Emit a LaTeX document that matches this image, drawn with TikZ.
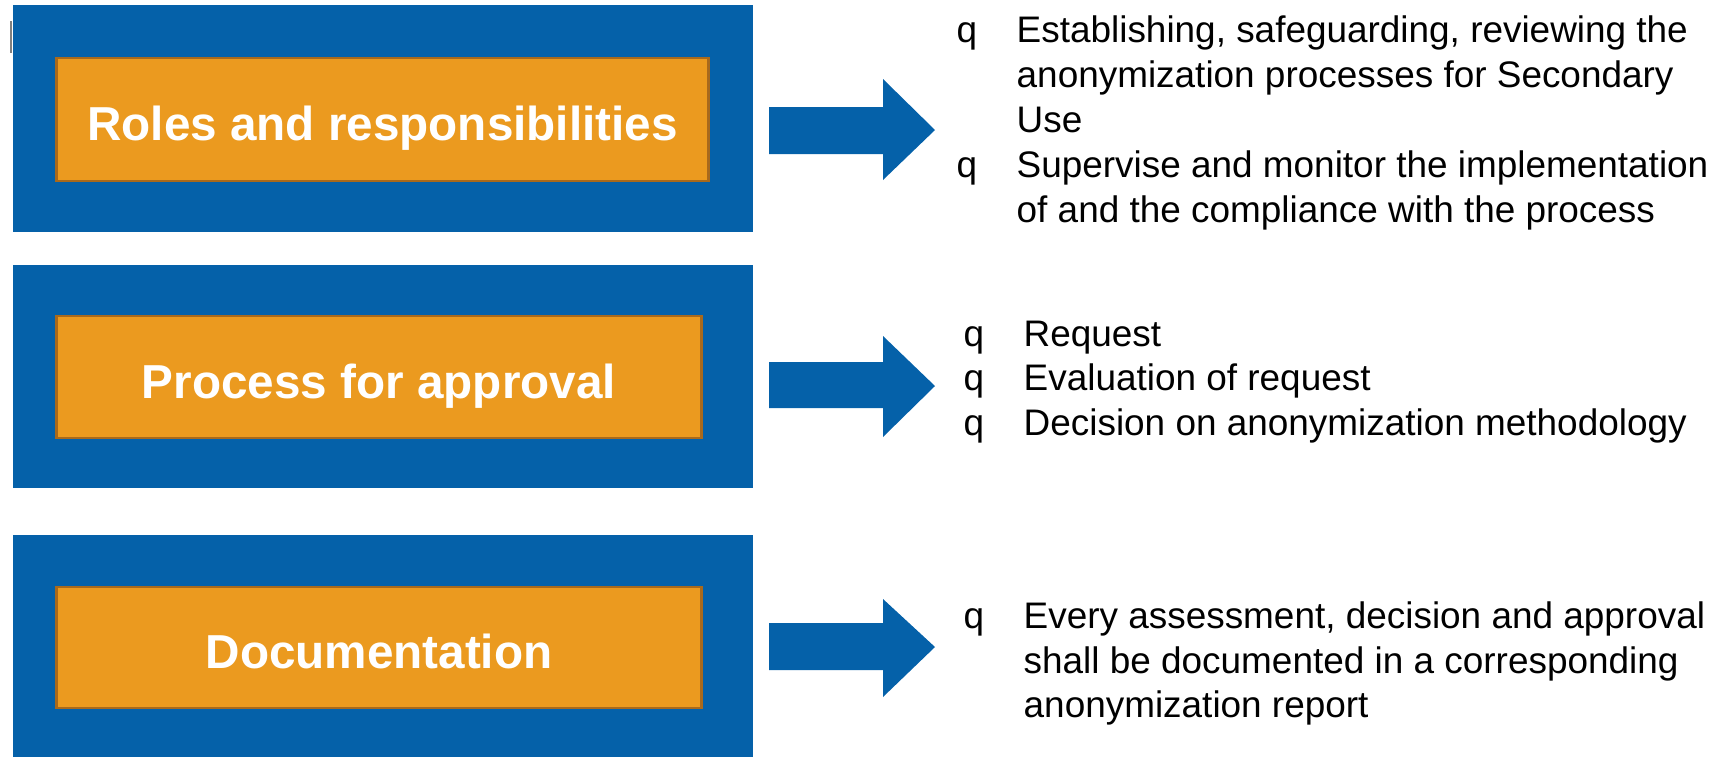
\documentclass[tikz,border=0pt]{standalone}
\usepackage{fontspec}
\setmainfont{Liberation Sans}
\usepackage{xcolor}
\usepackage{tikz}

\definecolor{boxblue}{HTML}{0561A9}
\definecolor{boxorange}{HTML}{EB9A1F}
\definecolor{boxedge}{HTML}{A8691C}

\begin{document}
\begin{tikzpicture}[x=0.01cm,y=-0.01cm]
\tikzset{outer/.style={fill=boxblue, minimum width=7.4cm, inner sep=0pt},
  title/.style={fill=boxorange, draw=boxedge, line width=0.8pt, text=white, inner sep=0pt, text height=12.2pt, text depth=0pt, font=\fontsize{13.55}{16}\selectfont\bfseries},
  item/.style={anchor=base west, inner sep=0pt, font=\fontsize{10.5}{12.6}\selectfont},
  bigarrow/.style={fill=boxblue}}
\useasboundingbox (0,0) rectangle (1729,757);

\node[outer,minimum height=2.26cm] (rolesbg) at (383,118.5) {};
\node[outer,minimum height=2.23cm] (approvalbg) at (383,376.5) {};
\node[outer,minimum height=2.22cm] (docubg) at (383,646) {};
\draw[gray,line width=0.6pt] (11,21) -- (11,53);

\node[title,minimum width=6.51cm,minimum height=1.23cm] (roles) at (382.5,119.5) {Roles and responsibilities};
\node[title,minimum width=6.44cm,minimum height=1.22cm] (approval) at (379,377) {Process for approval};
\node[title,minimum width=6.44cm,minimum height=1.21cm] (docu) at (379,647.5) {Documentation};

\fill[bigarrow] (769,107) -- (883,107) -- (883,79) -- (935,130) -- (883,180) -- (883,154) -- (769,154) -- cycle;
\fill[bigarrow] (769,362) -- (883,362) -- (883,336) -- (935,386) -- (883,437) -- (883,408) -- (769,408) -- cycle;
\fill[bigarrow] (769,623) -- (883,623) -- (883,599) -- (935,647) -- (883,697) -- (883,670) -- (769,670) -- cycle;

\node[item] (qr1) at (956,42.7) {q};
\node[item] (rl1) at (1016,42.7) {Establishing, safeguarding, reviewing the};
\node[item] (rl2) at (1016,87) {anonymization processes for Secondary};
\node[item] (rl3) at (1016,132) {Use};
\node[item] (qr2) at (956,177) {q};
\node[item] (rl4) at (1016,177) {Supervise and monitor the implementation};
\node[item] (rl5) at (1016,222) {of and the compliance with the process};

\node[item] (qa1) at (963,346) {q};
\node[item] (ap1) at (1023,346) {Request};
\node[item] (qa2) at (963,390) {q};
\node[item] (ap2) at (1023,390) {Evaluation of request};
\node[item] (qa3) at (963,435) {q};
\node[item] (ap3) at (1023,435) {Decision on anonymization methodology};

\node[item] (qd1) at (963,628) {q};
\node[item] (dc1) at (1023,628) {Every assessment, decision and approval};
\node[item] (dc2) at (1023,673) {shall be documented in a corresponding};
\node[item] (dc3) at (1023,717) {anonymization report};
\end{tikzpicture}
\end{document}
